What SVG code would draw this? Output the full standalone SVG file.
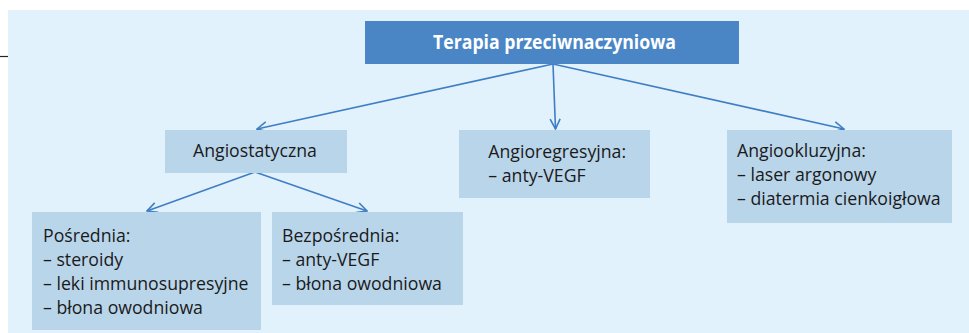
<svg xmlns="http://www.w3.org/2000/svg" width="969" height="333" viewBox="0 0 969 333">
<defs>
<marker id="ah" viewBox="0 0 12 12" refX="11" refY="6" markerWidth="12" markerHeight="12" markerUnits="userSpaceOnUse" orient="auto">
<path d="M1,1 L11,6 L1,11" fill="none" stroke="#3f7ec4" stroke-width="1.6"/>
</marker>
<style>
.box{fill:#b9d5ea}
.t{font-family:"Open Sans","Noto Sans",sans-serif;font-size:17.7px;fill:#1a1a1a}
.c{fill:none;stroke:#3f7ec4;stroke-width:1.6;marker-end:url(#ah)}
</style>
</defs>
<rect x="0" y="0" width="969" height="333" fill="#ffffff"/>
<rect x="8" y="10" width="961" height="323" fill="#e1f2fc"/>
<line x1="0" y1="56.5" x2="8" y2="56.5" stroke="#222" stroke-width="1.2"/>
<g id="connectors">
<line class="c" x1="553" y1="64" x2="257" y2="129"/>
<line class="c" x1="553" y1="64" x2="555.5" y2="129"/>
<line class="c" x1="553" y1="64" x2="844" y2="129"/>
<line class="c" x1="255" y1="172" x2="147" y2="211"/>
<line class="c" x1="255" y1="172" x2="367" y2="211"/>
</g>
<g id="title">
<rect x="365" y="21" width="374" height="43" fill="#4a86c6"/>
<text x="433" y="48.7" font-family="'Open Sans','Noto Sans',sans-serif" font-size="19" font-weight="bold" fill="#ffffff" textLength="243" lengthAdjust="spacingAndGlyphs">Terapia przeciwnaczyniowa</text>
</g>
<g id="angiostatyczna">
<rect class="box" x="165" y="130" width="182" height="43"/>
<text class="t" x="193" y="156.7">Angiostatyczna</text>
</g>
<g id="angioregresyjna">
<rect class="box" x="459" y="130" width="191" height="68"/>
<text class="t" x="488.3" y="158"><tspan x="488.3">Angioregresyjna:</tspan><tspan x="488.3" dy="23.5">– anty-VEGF</tspan></text>
</g>
<g id="angiookluzyjna">
<rect class="box" x="727" y="130" width="225" height="93"/>
<text class="t" x="737" y="157"><tspan x="737">Angiookluzyjna:</tspan><tspan x="737" dy="24">– laser argonowy</tspan><tspan x="737" dy="24">– diatermia cienkoigłowa</tspan></text>
</g>
<g id="posrednia">
<rect class="box" x="32" y="212" width="229" height="118"/>
<text class="t" x="43" y="242"><tspan x="43">Pośrednia:</tspan><tspan x="43" dy="24.2">– steroidy</tspan><tspan x="43" dy="24">– leki immunosupresyjne</tspan><tspan x="43" dy="24">– błona owodniowa</tspan></text>
</g>
<g id="bezposrednia">
<rect class="box" x="272" y="212" width="191" height="93"/>
<text class="t" x="282" y="242"><tspan x="282">Bezpośrednia:</tspan><tspan x="282" dy="24.2">– anty-VEGF</tspan><tspan x="282" dy="24">– błona owodniowa</tspan></text>
</g>
</svg>
